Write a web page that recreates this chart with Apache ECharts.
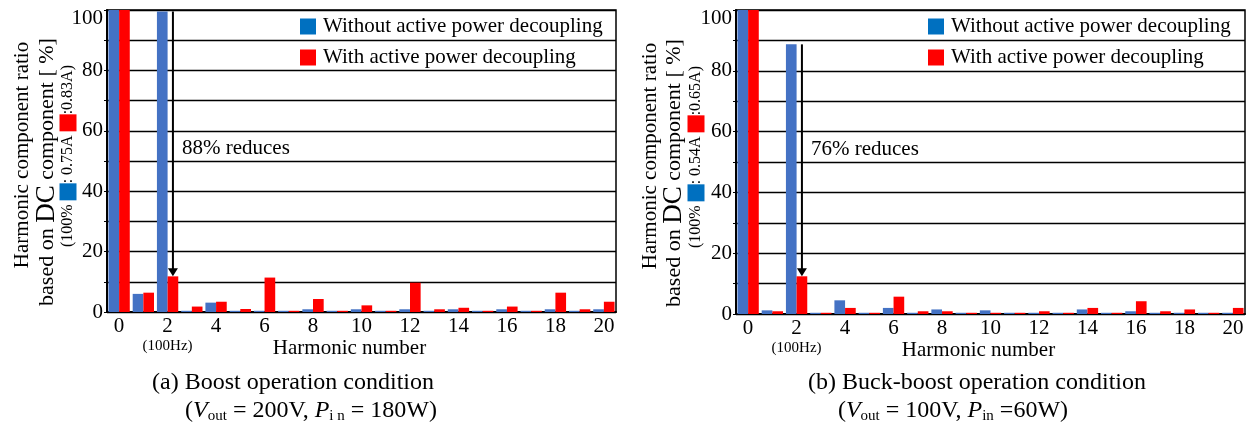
<!DOCTYPE html>
<html>
<head>
<meta charset="utf-8">
<script src="https://cdn.jsdelivr.net/npm/echarts@6/dist/echarts.min.js"></script>
<style>
html,body{margin:0;padding:0;background:#fff;}
#main{width:1254px;height:423px;}
</style>
</head>
<body>
<div id="main"></div>
<script>
// ---- data ----
const harmonics = ['0','1','2','3','4','5','6','7','8','9','10','11','12','13','14','15','16','17','18','19','20'];
const yTicks = [0, 20, 40, 60, 80, 100];
const seriesNames = ['Without active power decoupling', 'With active power decoupling'];
// (a) Boost operation condition
const boostWithout = [100, 6.0, 99.5, 0.4, 3.1, 0.4, 0.4, 0.4, 0.9, 0.4, 0.9, 0.4, 0.9, 0.4, 0.9, 0.4, 0.9, 0.4, 0.9, 0.4, 0.9];
const boostWith    = [100, 6.4, 11.8, 1.8, 3.4, 1.0, 11.4, 0.4, 4.3, 0.4, 2.2, 0.4, 9.7, 0.9, 1.4, 0.4, 1.8, 0.4, 6.4, 0.9, 3.4];
// (b) Buck-boost operation condition
const buckWithout  = [100, 1.2, 88.7, 0.4, 4.5, 0.4, 2.0, 0.4, 1.5, 0.4, 1.2, 0.4, 0.4, 0.4, 1.5, 0.4, 0.9, 0.4, 0.4, 0.4, 0.4];
const buckWith     = [100, 0.9, 12.4, 0.4, 2.0, 0.4, 5.7, 0.9, 0.9, 0.4, 0.4, 0.4, 0.9, 0.4, 2.0, 0.4, 4.2, 0.9, 1.5, 0.4, 2.0];
const reductionLabels = ['88% reduces', '76% reduces'];
const reductionLabelValue = 54;
const dcCurrents = [['0.75A', '0.83A'], ['0.54A', '0.65A']];
const captions = [
  ['(a) Boost operation condition', '({i|V}{sub|out} = 200V, {i|P}{sub|i n} = 180W)'],
  ['(b) Buck-boost operation condition', '({i|V}{sub|out} = 100V, {i|P}{sub|in} =60W)']
];

// ---- styles ----
const FF = '"Liberation Serif", "Times New Roman", serif';
const BLUE = '#4472C4', BLUE_KEY = '#0070C0', RED = '#FF0000';

const chart = echarts.init(document.getElementById('main'), null, {renderer: 'canvas'});

const grids = [
  {left: 107, top: 10, width: 509, height: 302},
  {left: 736, top: 10, width: 509, height: 304}
];

function xAxisFor(i) {
  return {
    type: 'category', gridIndex: i, data: harmonics,
    axisLine: {lineStyle: {color: '#000', width: 2}},
    axisTick: {show: false},
    axisLabel: {
      interval: 1, margin: 3, color: '#000', fontFamily: FF, fontSize: 21, lineHeight: 22,
      formatter: v => v === '2' ? '2\n{n|(100Hz)}' : v,
      rich: {n: {fontFamily: FF, fontSize: 15, lineHeight: 18, color: '#000'}}
    },
    name: 'Harmonic number', nameLocation: 'middle', nameGap: 26, nameMoveOverlap: false,
    nameTextStyle: {color: '#000', fontFamily: FF, fontSize: 21, padding: [0, 24, 0, 0]}
  };
}
function yAxisFor(i) {
  return {
    type: 'value', gridIndex: i, min: 0, max: 100, interval: 10,
    axisLine: {show: true, lineStyle: {color: '#000', width: 2}},
    axisTick: {show: true, length: 3, lineStyle: {color: '#000'}},
    splitLine: {show: true, lineStyle: {color: '#000', width: 1.3}},
    axisLabel: {
      margin: 4, color: '#000', fontFamily: FF, fontSize: 21,
      formatter: v => yTicks.indexOf(v) < 0 ? '' : (v === 100 ? '{t|100}' : String(v)),
      rich: {t: {fontFamily: FF, fontSize: 21, color: '#000', padding: [16, 0, 0, 0]}}
    }
  };
}
function barSeries(name, data, color, gi) {
  return {
    type: 'bar', name: name, data: data, xAxisIndex: gi, yAxisIndex: gi,
    itemStyle: {color: color}, barGap: '0%', barCategoryGap: '12%', silent: true
  };
}
function legendFor(left) {
  return {
    orient: 'vertical', left: left, top: 16, padding: 0, itemWidth: 16, itemHeight: 16, itemGap: 10,
    selectedMode: false, icon: 'rect',
    textStyle: {color: '#000', fontFamily: FF, fontSize: 21, padding: [0, 0, 0, 2]},
    data: [
      {name: seriesNames[0], itemStyle: {color: BLUE_KEY}},
      {name: seriesNames[1], itemStyle: {color: RED}}
    ]
  };
}

function yTitle(x1, x2, x3, yc, cur) {
  const common = {align: 'center', verticalAlign: 'middle', textAlign: 'center', textVerticalAlign: 'middle', fill: '#000'};
  return [
    {type: 'text', x: x1, y: yc - 6, rotation: Math.PI / 2, z: 10,
      style: Object.assign({text: 'Harmonic component ratio', font: '21px ' + FF}, common)},
    {type: 'text', x: x2, y: yc + 11, rotation: Math.PI / 2, z: 10,
      style: Object.assign({text: 'based on {d|DC} component [ %]', font: '22px ' + FF,
        rich: {d: {fontFamily: FF, fontSize: 27, fill: '#000'}}}, common)},
    {type: 'text', x: x3, y: yc - 5, rotation: Math.PI / 2, z: 10,
      style: Object.assign({
        text: '(100% {b|}: ' + cur[0] + ' {r|}:' + cur[1] + ')',
        font: '16px ' + FF,
        rich: {
          b: {backgroundColor: BLUE_KEY, width: 17, height: 17},
          r: {backgroundColor: RED, width: 17, height: 17}
        }
      }, common)}
  ];
}

function captionTexts(cx1, cx2, cap) {
  const c = {align: 'center', verticalAlign: 'middle', textAlign: 'center', textVerticalAlign: 'middle', fill: '#000'};
  return [
    {type: 'text', x: cx1, y: 383, z: 10,
      style: Object.assign({text: cap[0], font: '24px ' + FF}, c)},
    {type: 'text', x: cx2, y: 411, z: 10,
      style: Object.assign({text: cap[1], font: '24px ' + FF, lineHeight: 26,
        rich: {
          i: {fontFamily: FF, fontSize: 24, fontStyle: 'italic', lineHeight: 26, fill: '#000'},
          sub: {fontFamily: FF, fontSize: 15, lineHeight: 15, verticalAlign: 'bottom', fill: '#000'}
        }}, c)}
  ];
}

const option = {
  animation: false,
  backgroundColor: '#fff',
  grid: grids.map(g => Object.assign({show: true, borderColor: '#000', borderWidth: 1.5, backgroundColor: 'transparent', containLabel: false}, g)),
  legend: [legendFor(300), legendFor(928)],
  xAxis: [xAxisFor(0), xAxisFor(1)],
  yAxis: [yAxisFor(0), yAxisFor(1)],
  series: [
    barSeries(seriesNames[0], boostWithout, BLUE, 0),
    barSeries(seriesNames[1], boostWith, RED, 0),
    barSeries(seriesNames[0], buckWithout, BLUE, 1),
    barSeries(seriesNames[1], buckWith, RED, 1)
  ],
  graphic: [].concat(
    yTitle(22, 47, 68, 161, dcCurrents[0]),
    yTitle(650, 674, 696, 162, dcCurrents[1]),
    captionTexts(293, 311, captions[0]),
    captionTexts(977, 953, captions[1])
  )
};
chart.setOption(option);

// ---- reduction arrows, placed from the bar layout ----
function barTop(seriesIndex, dataIndex) {
  const lay = chart.getModel().getSeriesByIndex(seriesIndex).getData().getItemLayout(dataIndex);
  return {x: lay.x + lay.width / 2, y: Math.min(lay.y, lay.y + lay.height)};
}
const extra = [];
[[0, 1, 0], [2, 3, 1]].forEach(([bi, ri, gi]) => {
  const idx = harmonics.indexOf('2');
  const red = barTop(ri, idx);
  const blue = barTop(bi, idx);
  const x = red.x;
  const y0 = blue.y, y1 = red.y;
  extra.push({type: 'line', z: 20, shape: {x1: x, y1: y0, x2: x, y2: y1 - 6}, style: {stroke: '#000', lineWidth: 2}});
  extra.push({type: 'polygon', z: 20, shape: {points: [[x - 5, y1 - 8], [x + 5, y1 - 8], [x, y1]]}, style: {fill: '#000'}});
  const ty = chart.convertToPixel({yAxisIndex: gi}, reductionLabelValue);
  extra.push({type: 'text', z: 20, x: x + 9, y: ty,
    style: {text: reductionLabels[gi], font: '21px ' + FF, fill: '#000', align: 'left', verticalAlign: 'middle', textAlign: 'left', textVerticalAlign: 'middle'}});
});
chart.setOption({graphic: option.graphic.concat(extra)});
</script>
</body>
</html>
